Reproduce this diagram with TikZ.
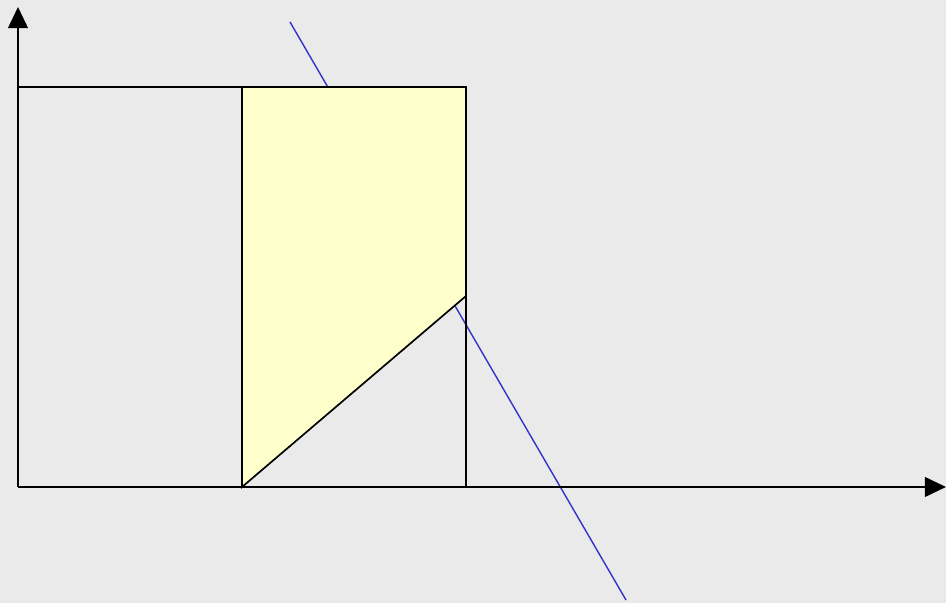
\documentclass[tikz,border=0pt]{standalone}
\usepackage{tikz}
\usepackage{xcolor}
\usetikzlibrary{arrows.meta, positioning, calc}
\definecolor{BackGray}{RGB}{234,234,234}
\definecolor{AreaYellow}{RGB}{255,255,204}
\definecolor{LineBlue}{RGB}{51,51,204}

\begin{document}
\begin{tikzpicture}[
        x=0.025cm, y=0.025cm,
        ax/.style={-{Triangle[length=15pt,width=14pt]},black,line width=1.4pt},
        edge/.style={black,line width=1.2pt},
        cut/.style={LineBlue,line width=1pt}
      ]
        % Background
        \fill[BackGray] (0,0) rectangle (946,603);
        \useasboundingbox (0,0) rectangle (946,603);
        % Points
        \coordinate (o) at (18,116);
        \coordinate (ytip) at (18,596);
        \coordinate (xtip) at (946,116);
        \coordinate (tl) at (18,516);
        \coordinate (tm) at (242,516);
        \coordinate (tr) at (466,516);
        \coordinate (bm) at (242,116);
        \coordinate (br) at (466,116);
        \coordinate (dr) at (466,307);
        \coordinate (l1) at (290,581);
        \coordinate (l2) at (626,3);
        % Cutting line
        \draw[cut] (l1) -- (l2);
        % Region
        \filldraw[edge,fill=AreaYellow] (tm) -- (tr) -- (dr) -- (bm) -- cycle;
        \draw[edge] (tl) -- (tm);
        \draw[edge] (dr) -- (br) -- (bm);
        % Axes
        \draw[ax] (o) -- (ytip);
        \draw[ax] (o) -- (xtip);
      \end{tikzpicture}
\end{document}
